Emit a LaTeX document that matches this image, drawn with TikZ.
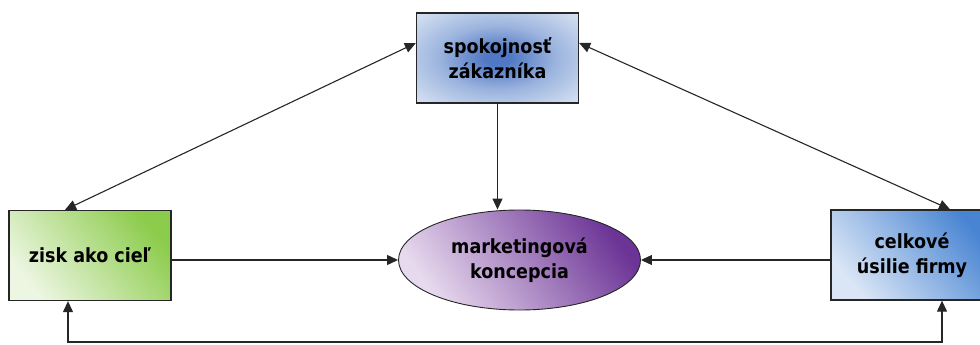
\documentclass[tikz,border=0pt]{standalone}
\usepackage{fontspec}
\setmainfont{DejaVu Sans Condensed}
\usetikzlibrary{arrows.meta,shapes.geometric}

\definecolor{blueedge}{RGB}{218,229,243}
\definecolor{bluecore}{RGB}{80,120,196}
\definecolor{greenlight}{RGB}{236,246,226}
\definecolor{greendark}{RGB}{140,204,76}
\definecolor{violetlight}{RGB}{232,218,238}
\definecolor{violetdark}{RGB}{108,52,150}
\definecolor{azurelight}{RGB}{218,230,246}
\definecolor{azuredark}{RGB}{72,132,210}

% glow that fades from the centre towards the edge of the box
\pgfdeclareradialshading{boxglow}{\pgfpoint{0bp}{0bp}}{%
  color(0bp)=(bluecore); color(4bp)=(bluecore); color(18bp)=(bluecore!45!blueedge);
  color(36bp)=(blueedge); color(50bp)=(blueedge)}

\tikzset{
  box/.style={draw=black!85, line width=1.3pt, minimum width=162pt, minimum height=90pt,
    inner sep=2pt, align=center, font=\fontsize{19.5}{25}\selectfont\bfseries},
  oval/.style={ellipse, draw=black!85, line width=0.9pt, minimum width=242pt, minimum height=100pt,
    inner sep=0pt, align=center, font=\fontsize{19.5}{25}\selectfont\bfseries},
  link/.style={line width=1.1pt, draw=black!85},
  tip/.style={-{Triangle[length=11pt,width=10pt]}},
  bothtips/.style={{Triangle[length=11pt,width=10pt]}-{Triangle[length=11pt,width=10pt]}}
}

\begin{document}
\begin{tikzpicture}[x=1pt,y=-1pt]
\useasboundingbox (0,0) rectangle (980,345);
\clip (0,0) rectangle (980,345);

% nodes
\node[box, shade, shading=boxglow] (top) at (497.5,58) {spokojnosť\\zákazníka};
\node[box, bottom color=greenlight, top color=greendark, shading angle=-50] (left) at (90,255.5) {zisk ako cieľ};
\node[box, bottom color=azurelight, top color=azuredark, shading angle=-50] (right) at (912,255) {celkové\\úsilie firmy};
\node[oval, bottom color=violetlight, top color=violetdark, shading angle=-55] (ell) at (519.5,260) {marketingová\\koncepcia};

% connectors
\coordinate (bl) at (68,342);
\coordinate (br) at (942,342);

\draw[link, tip] (top.south) -- (top.south |- ell.north);
\draw[link, tip] (left.east |- ell.west) -- (ell.west);
\draw[link, tip] (right.west |- ell.east) -- (ell.east);
\draw[link, bothtips] ([yshift=15pt]top.west) -- ([xshift=-25pt]left.north);
\draw[link, bothtips] ([yshift=15pt]top.east) -- ([xshift=38pt]right.north);
\draw[link, bothtips] (left.south -| bl) -- (bl) -- (br) -- (br |- right.south);
\end{tikzpicture}
\end{document}
